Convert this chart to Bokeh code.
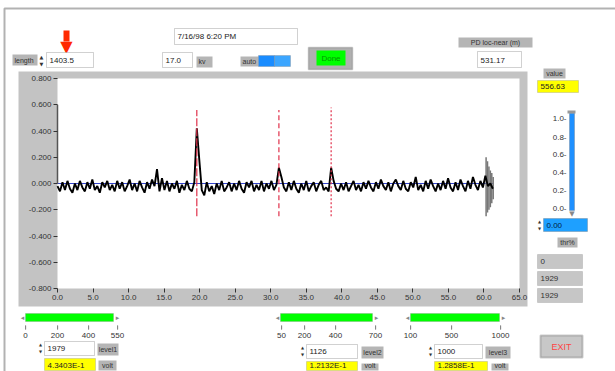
from bokeh.plotting import figure
from bokeh.models import BoxAnnotation, Label, Range1d, NumeralTickFormatter, FixedTicker
from bokeh.embed import file_html
from bokeh.resources import INLINE

# ---------------- data ----------------
sample_step = 0.35
trace_y = [
    -0.02, -0.06, 0.01, -0.05, 0.02, -0.04, -0.07, 0.00, -0.05, 0.02,
    -0.03, -0.06, 0.01, -0.04, 0.03, -0.05, -0.02, -0.07, 0.01, -0.03,
    0.02, -0.05, -0.01, -0.06, 0.02, -0.04, 0.01, -0.06, -0.02, 0.03,
    -0.05, 0.00, -0.06, 0.02, -0.03, -0.07, 0.01, -0.04, 0.03, -0.02,
    0.11, -0.06, 0.04, -0.05, 0.02, -0.06, 0.00, -0.04, 0.02, -0.07,
    -0.01, -0.05, 0.02, -0.04, -0.06, 0.01, 0.42, 0.18, -0.05, -0.09,
    0.01, -0.06, -0.02, -0.08, 0.00, -0.05, 0.02, -0.06, -0.03, 0.01,
    -0.06, 0.00, -0.05, 0.02, -0.04, -0.07, 0.01, -0.03, 0.02, -0.06,
    -0.01, -0.05, 0.02, -0.06, 0.00, -0.04, 0.02, -0.05, -0.01, 0.12,
    0.05, -0.03, -0.06, 0.01, -0.05, 0.02, -0.04, -0.07, 0.00, -0.05,
    0.02, -0.06, -0.02, 0.01, -0.06, -0.01, 0.02, -0.05, -0.03, -0.06,
    0.12, 0.02, -0.04, -0.06, 0.00, -0.05, 0.01, -0.06, -0.02, 0.02,
    -0.05, -0.01, -0.06, 0.01, -0.04, 0.02, -0.03, -0.06, 0.01, -0.04,
    0.03, -0.02, -0.05, 0.01, -0.06, 0.00, 0.03, -0.02, -0.05, 0.02,
    -0.04, -0.06, 0.01, -0.03, 0.05, -0.05, -0.01, -0.06, 0.02, -0.04,
    0.03, -0.02, -0.06, 0.00, -0.05, 0.02, -0.04, 0.04, -0.03, -0.06,
    0.01, -0.05, 0.03, -0.02, -0.06, 0.02, -0.04, 0.05, -0.01, -0.05,
    0.02, -0.03, 0.06, -0.02, 0.00, -0.04,
]
trace_x = [i * sample_step for i in range(len(trace_y))]

start_spike_x = [0.0]
start_spike_top = [0.6]
start_spike_bottom = [0.0]

marker_x = [19.6, 31.15, 38.5]
marker_top = [0.56, 0.56, 0.58]
marker_bottom = [-0.25, -0.25, -0.25]

end_x = [60.3, 60.5, 60.7, 60.9, 61.1, 61.3]
end_top = [0.2, 0.17, 0.13, 0.1, 0.08, 0.05]
end_bottom = [-0.25, -0.22, -0.2, -0.18, -0.15, -0.12]

baseline_level = 0.0

x_min, x_max = 0, 65
y_min, y_max = -0.8, 0.8
x_ticks = [0, 5, 10, 15, 20, 25, 30, 35, 40, 45, 50, 55, 60, 65]
y_ticks = [-0.8, -0.6, -0.4, -0.2, 0.0, 0.2, 0.4, 0.6, 0.8]

# ---------------- layout (pixels) ----------------
W, H = 615, 371
PL, PR, PT, PB = 57, 519, 78, 288          # plot area inside the panel
kx = (PR - PL) / (x_max - x_min)
ky = (PB - PT) / (y_max - y_min)

p = figure(width=W, height=H, output_backend="svg", toolbar_location=None,
           x_range=Range1d(x_min - PL / kx, x_max + (W - PR) / kx),
           y_range=Range1d(y_min - (H - PB) / ky, y_max + PT / ky),
           min_border=0, min_border_left=0, min_border_right=0,
           min_border_top=0, min_border_bottom=0)
p.background_fill_color = "white"
p.border_fill_color = "white"
p.outline_line_color = None
p.grid.visible = False

xa, ya = p.xaxis[0], p.yaxis[0]
xa.fixed_location = y_min
ya.fixed_location = x_min
for ax in (xa, ya):
    ax.axis_line_color = None
    ax.major_tick_line_color = "#333333"
    ax.major_tick_in = 0
    ax.major_tick_out = 4
    ax.minor_tick_line_color = None
    ax.major_label_text_font = "Liberation Sans"
    ax.major_label_text_font_size = "8px"
    ax.major_label_text_color = "#333333"
    ax.major_label_standoff = 2
xa.ticker = FixedTicker(ticks=x_ticks)
ya.ticker = FixedTicker(ticks=y_ticks)
xa.formatter = NumeralTickFormatter(format="0.0")
ya.formatter = NumeralTickFormatter(format="0.000")


def box(l, t, r, b, fill, line="#6e6e6e", lw=1, level="annotation"):
    p.add_layout(BoxAnnotation(left=l, right=r, top=t, bottom=b,
                               left_units="canvas", right_units="canvas",
                               top_units="canvas", bottom_units="canvas",
                               fill_color=fill, fill_alpha=1.0 if fill else 0.0,
                               line_color=line, line_width=lw, level=level))


def txt(x, y, s, size=8, color="#222222", align="left", font="Liberation Sans"):
    p.add_layout(Label(x=x, y=y, x_units="canvas", y_units="canvas", text=s,
                       text_font=font, text_font_size=f"{size}px", text_color=color,
                       text_align=align, text_baseline="middle"))


GRAY = "#c3c3c3"
# graph panel and white plotting area
box(18, 71, 527, 306, GRAY, None, level="underlay")
box(PL, PT, PR, PB, "white", None, level="underlay")

# ---------------- data marks ----------------
p.segment(x0=trace_x[0], x1=trace_x[-1], y0=baseline_level, y1=baseline_level,
          line_color="#3344cc", line_width=1)
p.segment(x0=start_spike_x, x1=start_spike_x, y0=start_spike_bottom, y1=start_spike_top,
          line_color="#555555", line_width=1.5)
p.segment(x0=end_x, x1=end_x, y0=end_bottom, y1=end_top, line_color="#777777", line_width=1.5)
p.line(trace_x, trace_y, line_color="black", line_width=1.9)
for mx, mt, mb, dash in zip(marker_x, marker_top, marker_bottom, ["8 2", "5 3", "2 2"]):
    p.segment(x0=[mx], x1=[mx], y0=[mb], y1=[mt], line_color="#e0304a", line_width=1.2,
              line_dash=dash)

# ---------------- panel decorations ----------------
# outer black frame
box(4, 8, 640, 400, None, "black", 2)

# red arrow
box(63, 30, 69, 41, "#ff2a00", None)
txt(66, 46, "\u25bc", 16, "#ff2a00", "center", "DejaVu Sans")

# length control
box(12, 54, 37, 65, "#b5b5b5", None)
txt(14, 60, "length", 7, "#333333")
txt(41, 56, "\u25b2", 5, "#333333", "center", "DejaVu Sans")
txt(41, 63, "\u25bc", 5, "#333333", "center", "DejaVu Sans")
box(46, 52, 93, 67, "white", "#666666")
txt(49, 60, "1403.5", 8)

# date
box(174, 28, 297, 44, "white", "#666666")
txt(177, 36, "7/16/98 6:20 PM", 8)

# kv
box(162, 52, 192, 67, "white", "#666666")
txt(165, 60, "17.0", 8)
box(196, 56, 212, 67, "#b5b5b5", None)
txt(198, 61, "kv", 7, "#333333")

# auto toggle
box(240, 56, 258, 66, "#b5b5b5", None)
txt(242, 61, "auto", 7, "#333333")
box(258, 55, 274, 66, "#1a8cff", "#777777")
box(274, 55, 290, 66, "#3ca6ff", "#777777")

# Done button
box(308, 47, 352, 69, "#b0b0b0", "#666666", 1.5)
box(316, 50, 345, 65, "#00ff00", None)
txt(330.5, 58, "Done", 8, "#009a00", "center")

# PD loc-near
box(458, 37, 532, 47, "#b5b5b5", None)
txt(495, 42, "PD loc-near (m)", 7, "#333333", "center")
box(477, 51, 521, 67, "white", "#666666")
txt(480, 60, "531.17", 8)

# value
box(543, 68, 565, 78, "#b5b5b5", None)
txt(554, 73, "value", 7, "#333333", "center")
box(537, 80, 578, 92, "#ffff00", "#888888")
txt(540, 86, "556.63", 8)

# vertical slider
for lab, yy in zip(["1.0-", "0.8-", "0.6-", "0.4-", "0.2-", "0.0-"], [118, 137, 154, 172, 190, 208]):
    txt(566, yy, lab, 8, "#333333", "right")
box(567, 110, 575, 113, "#999999", None)
box(569, 113, 574, 210, "#1e90ff", "#666666")
txt(571.5, 213, "\u25bc", 7, "#888888", "center", "DejaVu Sans")

# threshold input
txt(539, 221, "\u25b2", 4, "#333333", "center", "DejaVu Sans")
txt(539, 228, "\u25bc", 4, "#333333", "center", "DejaVu Sans")
box(543, 218, 587, 231, "#1ea0ff", "#666666")
txt(546, 225, "0.00", 8, "#002244")
box(557, 237, 577, 247, "#b5b5b5", None)
txt(567, 242, "thr%", 7, "#333333", "center")

# indicators
for s, (t, b) in zip(["0", "1929", "1929"], [(254, 268), (271, 285), (288, 302)]):
    box(537, t, 582, b, "#c6c6c6", "#8a8a8a")
    txt(540, (t + b) / 2, s, 8, "#333333")

# bottom sliders
sliders = [
    (25, 113, ["0", "200", "400", "550"], [25, 57, 88, 117]),
    (280, 372, ["50", "200", "400", "700"], [281, 304, 335, 375]),
    (410, 499, ["100", "500", "1000"], [410, 451, 500]),
]
for g0, g1, labs, xs in sliders:
    txt(g0 - 3, 317, "\u25c2", 7, "#888888", "center", "DejaVu Sans")
    box(g0, 313, g1, 321, "#00ff00", "#888888")
    txt(g1 + 4, 317, "\u25b8", 7, "#888888", "center", "DejaVu Sans")
    for lab, xx in zip(labs, xs):
        box(xx, 325, xx + 0.5, 329, "#444444", "#444444", 0.6)
        txt(xx, 335, lab, 8, "#333333", "center")

# level boxes
levels = [
    (44, 94, 341, "1979", "level1", 97, 118, "4.3403E-1", 95, "volt", 98, 116),
    (306, 357, 344, "1126", "level2", 361, 383, "1.2132E-1", 357, "volt", 361, 378),
    (434, 482, 344, "1000", "level3", 485, 510, "1.2858E-1", 487, "volt", 491, 508),
]
for l0, l1, top, val, name, n0, n1, volt, y1, vname, v0, v1 in levels:
    txt(l0 - 4, top + 3, "\u25b2", 4, "#333333", "center", "DejaVu Sans")
    txt(l0 - 4, top + 10, "\u25bc", 4, "#333333", "center", "DejaVu Sans")
    box(l0, top, l1, top + 14, "white", "#666666")
    txt(l0 + 3, top + 7, val, 8)
    box(n0, top + 2, n1, top + 14, "#b5b5b5", None)
    txt((n0 + n1) / 2, top + 8, name, 7, "#333333", "center")
    box(l0, top + 17, y1, min(top + 31, 370), "#ffff00", "#888888")
    txt(l0 + 3, min(top + 24, 365), volt, 8)
    box(v0, top + 19, v1, min(top + 31, 370), "#b5b5b5", None)
    txt((v0 + v1) / 2, min(top + 25, 365), vname, 7, "#333333", "center")

# EXIT button
box(540, 335, 582, 357, "#c8c8c8", "#555555", 2)
txt(561, 346, "EXIT", 9, "#ff4444", "center")

open("out.html", "w").write(file_html(p, INLINE))
